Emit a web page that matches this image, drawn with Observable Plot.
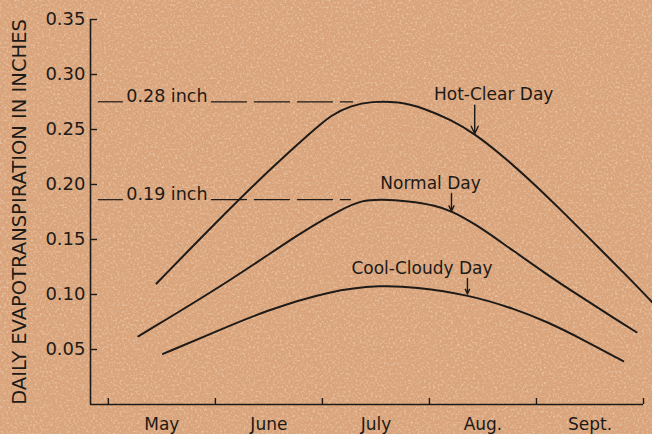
<!DOCTYPE html>
<html><head><meta charset="utf-8">
<script src="https://cdn.jsdelivr.net/npm/d3@7"></script>
<script src="https://cdn.jsdelivr.net/npm/@observablehq/plot@0.6"></script>
<style>html,body{margin:0;padding:0;background:#d9a47b;overflow:hidden}</style>
</head><body><div id="chart"></div>
<script>
// Month positions: 0 = 1 May, 1 = 1 June, ... 5 = 1 October
const months = ["May", "June", "July", "Aug.", "Sept."];
const monthCenters = [0.5, 1.5, 2.5, 3.5, 4.5];
const monthBounds = [0, 1, 2, 3, 4, 5];
const yTicks = [0.05, 0.10, 0.15, 0.20, 0.25, 0.30, 0.35];
const yTitle = "DAILY EVAPOTRANSPIRATION IN INCHES";

const hotX = [0.45, 1.00, 1.50, 1.90, 2.084, 2.271, 2.458, 2.707, 2.956, 3.206, 3.423, 3.642, 3.925, 4.234, 4.542, 4.86, 5.093];
const hotY = [0.110, 0.165, 0.213, 0.248, 0.2635, 0.2718, 0.2755, 0.2755, 0.2692, 0.2585, 0.2461, 0.2294, 0.2055, 0.1764, 0.1464, 0.1155, 0.0918];
const normalX = [0.28, 1.15, 1.804, 2.178, 2.364, 2.551, 2.801, 3.05, 3.206, 3.423, 3.673, 4.109, 4.421, 4.732, 4.935];
const normalY = [0.062, 0.113, 0.157, 0.1775, 0.1856, 0.1866, 0.1850, 0.1812, 0.1760, 0.1643, 0.1475, 0.1173, 0.0975, 0.0779, 0.0657];
const coolX = [0.51, 1.00, 1.458, 2.08, 2.551, 2.863, 3.355, 3.797, 4.109, 4.421, 4.81];
const coolY = [0.046, 0.066, 0.085, 0.1038, 0.1085, 0.1068, 0.100, 0.087, 0.0748, 0.0597, 0.0394];

const refValues = [0.2752, 0.1862];
const refTexts = ["0.28 inch", "0.19 inch"];
const refDashEnd = [2.29, 2.27];

const annotTexts = ["Hot-Clear Day", "Normal Day", "Cool-Cloudy Day"];
const annotX = [3.60, 3.01, 2.93];
const annotY = [0.2764, 0.1955, 0.1182];
const arrowX = [3.423, 3.206, 3.355];
const arrowTop = [0.272, 0.1918, 0.1145];
const arrowTip = [0.2461, 0.1757, 0.1005];

const series = [
  ...hotX.map((x, i) => ({m: x, v: hotY[i], s: "hot"})),
  ...normalX.map((x, i) => ({m: x, v: normalY[i], s: "normal"})),
  ...coolX.map((x, i) => ({m: x, v: coolY[i], s: "cool"}))
];
const refs = refValues.map((v, i) => ({v, text: refTexts[i], end: refDashEnd[i]}));
const annots = annotTexts.map((t, i) => ({t, x: annotX[i], y: annotY[i], ax: arrowX[i], a1: arrowTop[i], a2: arrowTip[i]}));

const xMin = -1 / 6, xMax = 5, yMax = 0.35;
const ink = "#1e1a17";
const W = 652, H = 434, mL = 90, mR = 9, mT = 19, mB = 30;
const pxX = (xMax - xMin) / (W - mL - mR);
const pxY = yMax / (H - mT - mB);

const chart = Plot.plot({
  width: W, height: H,
  marginLeft: mL, marginRight: mR, marginTop: mT, marginBottom: mB,
  style: {background: "#d9a47b", fontFamily: "DejaVu Sans", color: ink, overflow: "visible"},
  x: {domain: [xMin, xMax]},
  y: {domain: [0, yMax]},
  marks: [
    Plot.ruleX([xMin], {y1: 0, y2: yMax, stroke: ink, strokeWidth: 1.6}),
    Plot.ruleY([0], {x1: xMin, x2: xMax, stroke: ink, strokeWidth: 1.6}),
    Plot.ruleY(yTicks, {x1: xMin, x2: xMin + 7 * pxX, stroke: ink, strokeWidth: 1.4}),
    Plot.ruleX(monthBounds, {y1: 0, y2: 6 * pxY, stroke: ink, strokeWidth: 1.4}),
    Plot.axisY(yTicks, {tickSize: 0, tickPadding: 5, tickFormat: d => d.toFixed(2), fontSize: 18, label: null, fill: ink}),
    Plot.axisX(monthCenters, {tickSize: 0, tickPadding: 13, tickFormat: d => months[monthCenters.indexOf(d)], fontSize: 17, label: null, fill: ink}),
    Plot.text([yTitle], {frameAnchor: "left", textAnchor: "middle", rotate: -90, dx: -71, fontSize: 19.5, fill: ink}),
    // reference levels
    Plot.ruleY(refs, {y: "v", x1: -0.093, x2: 0.14, stroke: ink, strokeWidth: 1.2}),
    Plot.ruleY(refs, {y: "v", x1: 0.963, x2: "end", stroke: ink, strokeWidth: 1.2, strokeDasharray: "36,7"}),
    Plot.text(refs, {x: 0.168, y: "v", text: "text", textAnchor: "start", lineAnchor: "bottom", fontSize: 17.5, fill: ink}),
    // curves
    Plot.line(series, {x: "m", y: "v", z: "s", curve: "basis", stroke: ink, strokeWidth: 2}),
    // annotations
    Plot.text(annots, {x: "x", y: "y", text: "t", lineAnchor: "bottom", fontSize: 17, fill: ink}),
    Plot.arrow(annots, {x1: "ax", x2: "ax", y1: "a1", y2: "a2", stroke: ink, strokeWidth: 1.4, headLength: 9, headAngle: 50})
  ]
});

// paper texture behind the marks
const ns = "http://www.w3.org/2000/svg";
const defs = document.createElementNS(ns, "defs");
defs.innerHTML = '<filter id="paper" x="0" y="0" width="100%" height="100%">' +
  '<feTurbulence type="fractalNoise" baseFrequency="0.45" numOctaves="2" seed="7"/>' +
  '<feColorMatrix type="matrix" values="0 0 0 0 1  0 0 0 0 0.86  0 0 0 0 0.72  2.6 0 0 0 -1.25"/></filter>';
const rect = document.createElementNS(ns, "rect");
rect.setAttribute("width", W); rect.setAttribute("height", H);
rect.setAttribute("filter", "url(#paper)"); rect.setAttribute("opacity", "0.45");
chart.insertBefore(rect, chart.firstChild);
chart.insertBefore(defs, chart.firstChild);
document.getElementById("chart").appendChild(chart);
</script>
</body></html>
